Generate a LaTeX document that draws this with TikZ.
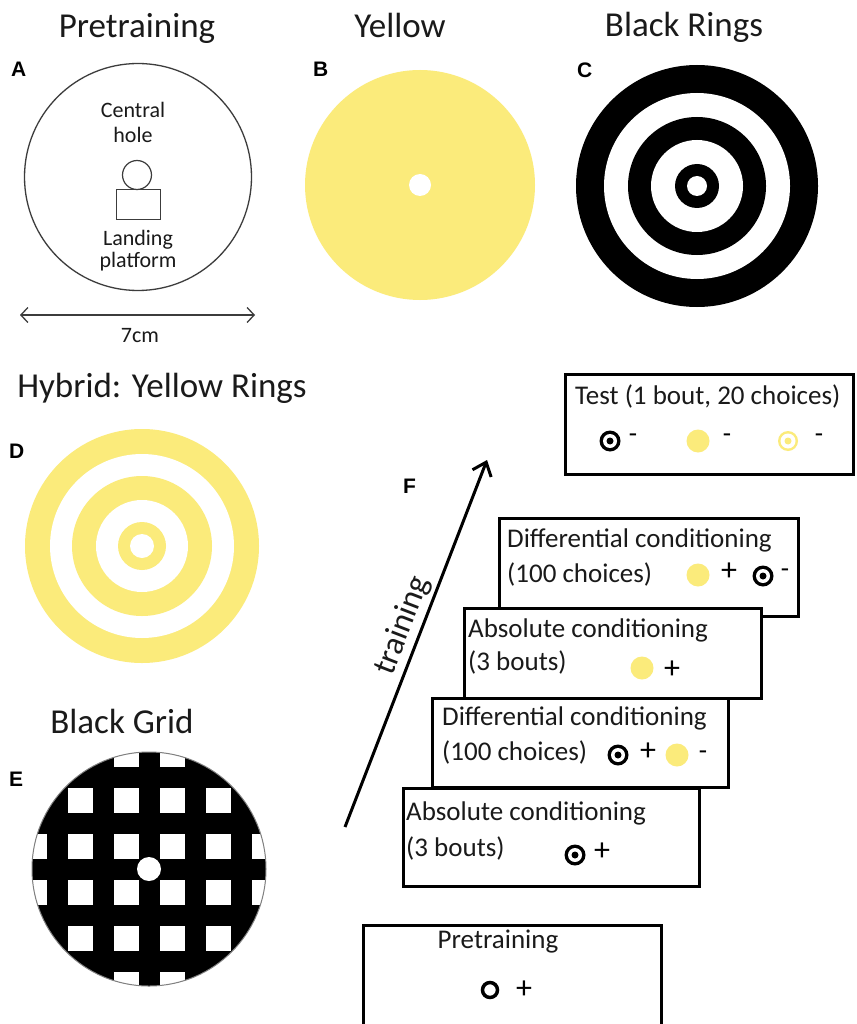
\documentclass[tikz,border=0pt]{standalone}
\usepackage{fontspec}
\setmainfont{Carlito}
\newfontfamily\labfont{Liberation Sans}
\usetikzlibrary{arrows.meta}
\definecolor{yel}{HTML}{FBEB7B}
\definecolor{ink}{HTML}{1A1A1A}
\tikzset{
 title/.style={anchor=base, inner sep=0, font=\fontsize{35}{40}\selectfont, text=ink},
 plabel/.style={anchor=base west, inner sep=0, font=\labfont\bfseries\fontsize{21}{24}\selectfont},
 small/.style={anchor=base, inner sep=0, font=\fontsize{22}{26}\selectfont, text=ink},
 boxtext/.style={anchor=base west, inner sep=0, font=\fontsize{27}{32}\selectfont, text=ink},
 sign/.style={anchor=base, inner sep=0, font=\fontsize{27}{32}\selectfont, text=black},
 plus/.style={anchor=base, inner sep=0, font=\fontsize{32}{36}\selectfont, text=black},
 panelbox/.style={draw=black, line width=3pt, fill=white, inner sep=0, anchor=north west},
 btgt/.pic={\fill[black] (0,0) circle (10.5pt); \fill[white] (0,0) circle (7pt); \fill[black] (0,0) circle (3.5pt);},
 ydot/.pic={\fill[yel] (0,0) circle (11.5pt);},
 ytgt/.pic={\fill[yel] (0,0) circle (10pt); \fill[white] (0,0) circle (7.5pt); \fill[yel] (0,0) circle (3.5pt);},
}
\begin{document}
\begin{tikzpicture}[x=1pt,y=-1pt]
\useasboundingbox (0,0) rectangle (856,1024);
\fill[white] (0,0) rectangle (856,1024);
% titles
\node[title] (t1) at (137,38) {Pretraining};
\node[title] (t2) at (400,38) {Yellow};
\node[title] (t3) at (684,37) {Black Rings};
\node[title] (t4) at (162,397) {Hybrid: Yellow Rings};
\node[title] (t5) at (122,733) {Black Grid};
% panel letters
\node[plabel] (lA) at (11,77) {A};
\node[plabel] (lB) at (313,77) {B};
\node[plabel] (lC) at (577,78) {C};
\node[plabel] (lD) at (9,458) {D};
\node[plabel] (lE) at (9,786) {E};
\node[plabel] (lF) at (403,493) {F};
% panel A
\coordinate (cA) at (138,177);
\draw[ink!85, line width=1.3pt] (cA) circle (113.5pt);
\node[small] (central) at (133,118) {Central};
\node[small] (hole) at (133,143) {hole};
\draw[ink!85, line width=1.2pt] (137,175) circle (14.5pt);
\node[draw=ink!85, line width=1.2pt, inner sep=0, minimum width=44pt, minimum height=30pt, anchor=north west] (platform) at (116,189) {};
\node[small] (landing) at (138,245) {Landing};
\node[small] (plat) at (138,267) {platform};
\coordinate (dl) at (20,315);
\coordinate (dr) at (255,315);
\draw[ink!85, line width=1.3pt, {Straight Barb[length=7pt,width=15pt]}-{Straight Barb[length=7pt,width=15pt]}] (dl) -- (dr);
\node[small] (cm) at (140,342) {7cm};
% panel B
\coordinate (cB) at (420,185);
\fill[yel] (cB) circle (115pt);
\fill[white] (cB) circle (11pt);
% panel C
\coordinate (cC) at (697,186);
\fill[black] (cC) circle (121pt);
\fill[white] (cC) circle (93pt);
\fill[black] (cC) circle (69pt);
\fill[white] (cC) circle (46pt);
\fill[black] (cC) circle (22pt);
\fill[white] (cC) circle (10pt);
% panel D
\coordinate (cD) at (142,546);
\fill[yel] (cD) circle (117pt);
\fill[white] (cD) circle (92pt);
\fill[yel] (cD) circle (70pt);
\fill[white] (cD) circle (46pt);
\fill[yel] (cD) circle (24pt);
\fill[white] (cD) circle (12pt);
% panel E
\coordinate (cE) at (149,869);
\begin{scope}
\clip (cE) circle (117pt);
\fill[black] (cE) circle (117pt);
\foreach \i in {-115,-69,-23,23,69,115}{
 \foreach \j in {-115,-69,-23,23,69,115}{
  \fill[white, shift={(cE)}] (\i-12.5,\j-12.5) rectangle ++(25,25);
 }}
\end{scope}
\fill[white] (cE) circle (12pt);
\draw[gray, line width=1pt] (cE) circle (117pt);
% panel F: training arrow
\coordinate (tail) at (345,827);
\coordinate (head) at (487,460);
\draw[line width=3pt, -{Straight Barb[length=12pt,width=20pt,line width=3pt]}] (tail) -- node[sloped, above=3pt, pos=0.53, inner sep=0, font=\fontsize{33}{38}\selectfont, text=ink] (trn) {training} (head);
% test box
\node[panelbox, minimum width=288pt, minimum height=100pt] (test) at (564,373) {};
\node[boxtext] (testt) at (575,404) {Test (1 bout, 20 choices)};
\pic at (610,441) {btgt};
\node[sign] (m1) at (633,442) {-};
\pic at (698,441) {ydot};
\node[sign] (m2) at (727,442) {-};
\pic at (788,441) {ytgt};
\node[sign] (m3) at (819,442) {-};
% box 1
\node[panelbox, minimum width=299pt, minimum height=98pt] (b1) at (498,517) {};
\node[boxtext] (b1a) at (507,547) {Differential conditioning};
\node[boxtext] (b1b) at (507,582) {(100 choices)};
\pic at (698,575) {ydot};
\node[plus] (b1p) at (729,580) {+};
\pic at (763,576) {btgt};
\node[sign] (b1m) at (785,577) {-};
% box 2
\node[panelbox, minimum width=297pt, minimum height=90pt] (b2) at (463,607) {};
\node[boxtext] (b2a) at (468,637) {Absolute conditioning};
\node[boxtext] (b2b) at (468,670) {(3 bouts)};
\pic at (642,668) {ydot};
\node[plus] (b2p) at (672,678) {+};
% box 3
\node[panelbox, minimum width=296pt, minimum height=89pt] (b3) at (431,697) {};
\node[boxtext] (b3a) at (442,725) {Differential conditioning};
\node[boxtext] (b3b) at (442,760) {(100 choices)};
\pic at (618,755) {btgt};
\node[plus] (b3p) at (648,760) {+};
\pic at (677,755) {ydot};
\node[sign] (b3m) at (703,759) {-};
% box 4
\node[panelbox, minimum width=296pt, minimum height=98pt] (b4) at (402,787) {};
\node[boxtext] (b4a) at (406,820) {Absolute conditioning};
\node[boxtext] (b4b) at (406,856) {(3 bouts)};
\pic at (575,855) {btgt};
\node[plus] (b4p) at (602,860) {+};
% pretraining box
\node[panelbox, minimum width=298pt, minimum height=112pt] (pre) at (362,924) {};
\node[boxtext, anchor=base] (pret) at (498,948) {Pretraining};
\draw[black, line width=3.5pt] (490,990) circle (7.5pt);
\node[plus] (prep) at (524,998) {+};
\end{tikzpicture}
\end{document}
